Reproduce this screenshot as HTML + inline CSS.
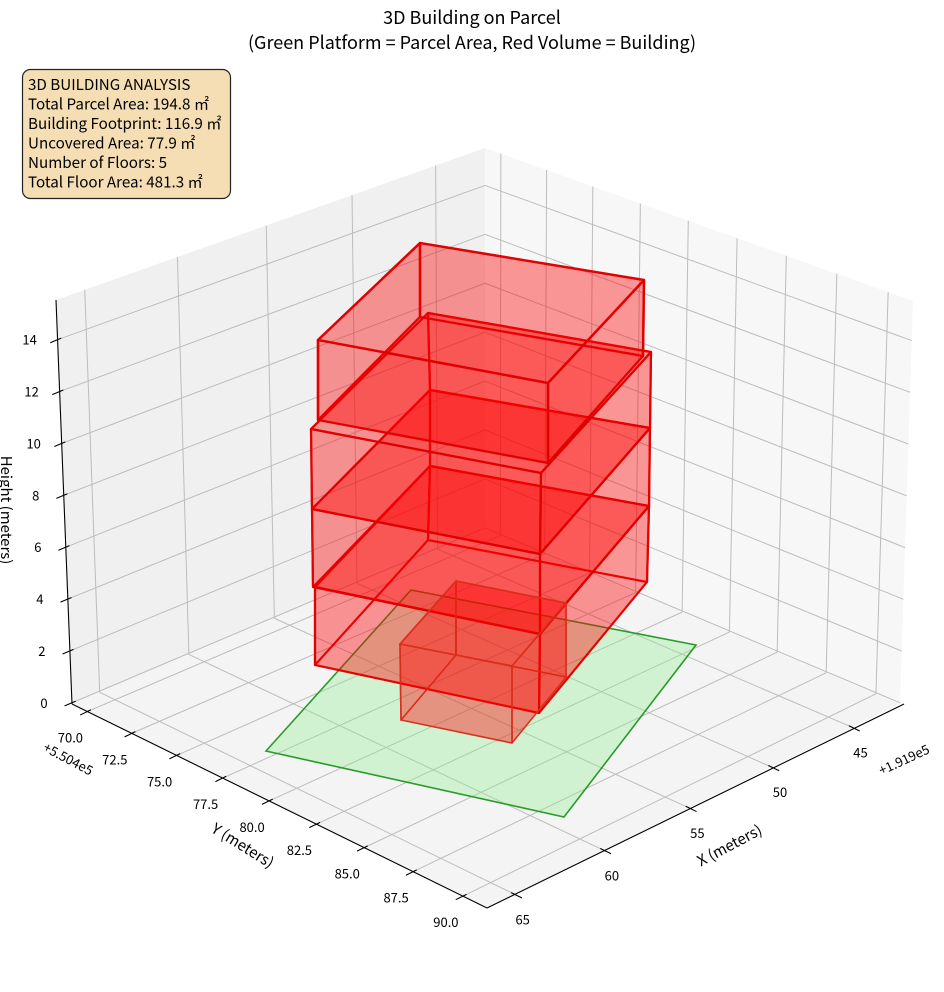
<!DOCTYPE html>
<html><head><meta charset="utf-8">
<style>
html,body{margin:0;padding:0;background:#fff;}
svg{display:block;font-family:"Noto Sans CJK SC","Liberation Sans",sans-serif;}
</style></head>
<body>
<svg id="s" xmlns="http://www.w3.org/2000/svg" width="944" height="992" viewBox="0 0 944 992">
<rect width="944" height="992" fill="#fff"/>
<g id="panes"></g>
<g id="grid" stroke="#bcbcbc" stroke-width="1" fill="none"></g>
<g id="data"></g>
<g id="axes" stroke="#000" stroke-width="1.1" fill="none"></g>
<g id="labels" font-size="13" fill="#000"></g>
<text x="472" y="24" font-size="18" text-anchor="middle">3D Building on Parcel</text>
<text x="472" y="49" font-size="18" text-anchor="middle">(Green Platform = Parcel Area, Red Volume = Building)</text>
<rect x="22.5" y="69.5" width="208" height="129" rx="8" fill="#f5deb3" stroke="#222" stroke-width="1.2"/>
<g font-size="15.2" fill="#000">
<text x="28" y="90">3D BUILDING ANALYSIS</text>
<text x="28" y="109.5">Total Parcel Area: 194.8 ㎡</text>
<text x="28" y="129">Building Footprint: 116.9 ㎡</text>
<text x="28" y="148.5">Uncovered Area: 77.9 ㎡</text>
<text x="28" y="168">Number of Floors: 5</text>
<text x="28" y="187.5">Total Floor Area: 481.3 ㎡</text>
</g>
<text x="0" y="0" font-size="15" text-anchor="middle" transform="translate(1,510) rotate(90)">Height (meters)</text>
<text x="0" y="0" font-size="15" text-anchor="middle" transform="translate(240,850) rotate(32)">Y (meters)</text>
<text x="0" y="0" font-size="15" text-anchor="middle" transform="translate(732,850) rotate(-28)">X (meters)</text>
<text x="0" y="0" font-size="13" text-anchor="middle" transform="translate(66,763) rotate(28)">+5.504e5</text>
<text x="0" y="0" font-size="13" text-anchor="middle" transform="translate(906,764) rotate(-25)">+1.919e5</text>
</svg>
<script>
(function(){
var NS="http://www.w3.org/2000/svg";
function el(parent,tag,attrs,txt){var e=document.createElementNS(NS,tag);for(var k in attrs)e.setAttribute(k,attrs[k]);if(txt!==undefined)e.textContent=txt;document.getElementById(parent).appendChild(e);return e;}
var B=[485,529],L=[72,704],R=[900,704],F=[487,908];
var TB=[485,148],TL=[56,300],TR=[913,301],TF=[486,480];
function bil(b,l,r,f,u,v){return [b[0]*(1-u)*(1-v)+l[0]*u*(1-v)+r[0]*(1-u)*v+f[0]*u*v, b[1]*(1-u)*(1-v)+l[1]*u*(1-v)+r[1]*(1-u)*v+f[1]*u*v];}
function p3(u,v,w){var a=bil(B,L,R,F,u,v),t=bil(TB,TL,TR,TF,u,v);return [a[0]+(t[0]-a[0])*w,a[1]+(t[1]-a[1])*w];}
function pts(a){return a.map(function(p){return p[0].toFixed(1)+","+p[1].toFixed(1)}).join(" ");}
function line(g,a,b,extra){var o={x1:a[0],y1:a[1],x2:b[0],y2:b[1]};for(var k in extra)o[k]=extra[k];el(g,"line",o);}
el("panes","polygon",{points:pts([B,L,TL,TB]),fill:"#f0f0f0"});
el("panes","polygon",{points:pts([B,R,TR,TB]),fill:"#f7f7f7"});
el("panes","polygon",{points:pts([B,L,F,R]),fill:"#f4f4f4"});
var xu=[0.115,0.31,0.51,0.717,0.933], xl=["45","50","55","60","65"];
var yv=[0.037,0.144,0.252,0.363,0.475,0.589,0.704,0.822,0.942], yl=["70.0","72.5","75.0","77.5","80.0","82.5","85.0","87.5","90.0"];
var zl=["0","2","4","6","8","10","12","14"], zw=zl.map(function(z){return 0.003+0.0642*(+z);});
xu.forEach(function(u){line("grid",p3(u,0,0),p3(u,1,0));line("grid",p3(u,0,0),p3(u,0,1));});
yv.forEach(function(v){line("grid",p3(0,v,0),p3(1,v,0));line("grid",p3(0,v,0),p3(0,v,1));});
zw.forEach(function(w){line("grid",p3(0,0,w),p3(1,0,w));line("grid",p3(0,0,w),p3(0,1,w));});
el("data","polygon",{points:pts([[411,590],[696,645],[564,817],[266,751]]),fill:"rgb(144,238,144)","fill-opacity":"0.35",stroke:"#2a9a2a","stroke-width":"1.6"});
function box(top,bot,stroke,sw,fop){
  var faces=[[bot[0],bot[1],bot[2],bot[3]],
    [top[1],top[2],bot[2],bot[1]],[top[0],top[1],bot[1],bot[0]],
    [top[0],top[3],bot[3],bot[0]],[top[2],top[3],bot[3],bot[2]],
    [top[0],top[1],top[2],top[3]]];
  faces.forEach(function(f,i){el("data","polygon",{points:pts(f),fill:"#ff0000","fill-opacity":fop,stroke:stroke,"stroke-width":(i==0?sw*0.6:sw),"stroke-linejoin":"round","stroke-opacity":"0.9"});});
}
box([[315,587],[430,466],[649,506],[540,634]],[[315,665],[428,540],[647,582],[539,713]],"#e00000",2.2,0.225);
box([[312,509],[430,390],[650,428],[540,554]],[[313,587],[430,466],[649,506],[540,634]],"#e00000",2.2,0.225);
box([[311,429],[428,313],[651,352],[541,473]],[[312,509],[430,390],[650,428],[540,554]],"#e00000",2.2,0.225);
box([[318,340],[420,243],[644,280],[548,383]],[[318,420],[420,317],[643,356],[548,463]],"#e00000",2.4,0.225);
box([[400,644],[456,581],[566,603],[512,666]],[[401,720],[456,655],[566,677],[512,743]],"#d8301c",1.6,0.22);
line("axes",L,F);line("axes",F,[904,704]);line("axes",L,TL);
var dY=[0.9,-0.44], dX=[0.9,0.44], dZ=[0.92,-0.39];
yv.forEach(function(v,i){var p=p3(1,v,0);line("axes",[p[0]-8*dY[0],p[1]-8*dY[1]],[p[0]+4*dY[0],p[1]+4*dY[1]]);
  el("labels","text",{x:(p[0]-17).toFixed(1),y:(p[1]+31).toFixed(1),"text-anchor":"middle"},yl[i]);});
xu.forEach(function(u,i){var p=p3(u,1,0);line("axes",[p[0]-4*dX[0],p[1]-4*dX[1]],[p[0]+8*dX[0],p[1]+8*dX[1]]);
  el("labels","text",{x:(p[0]+8).toFixed(1),y:(p[1]+30).toFixed(1),"text-anchor":"middle"},xl[i]);});
zw.forEach(function(w,i){var p=p3(1,0,w);line("axes",[p[0]-8*dZ[0],p[1]-8*dZ[1]],[p[0]+4*dZ[0],p[1]+4*dZ[1]]);
  el("labels","text",{x:(p[0]-28).toFixed(1),y:(p[1]+5).toFixed(1),"text-anchor":"middle"},zl[i]);});
})();
</script>
</body></html>
